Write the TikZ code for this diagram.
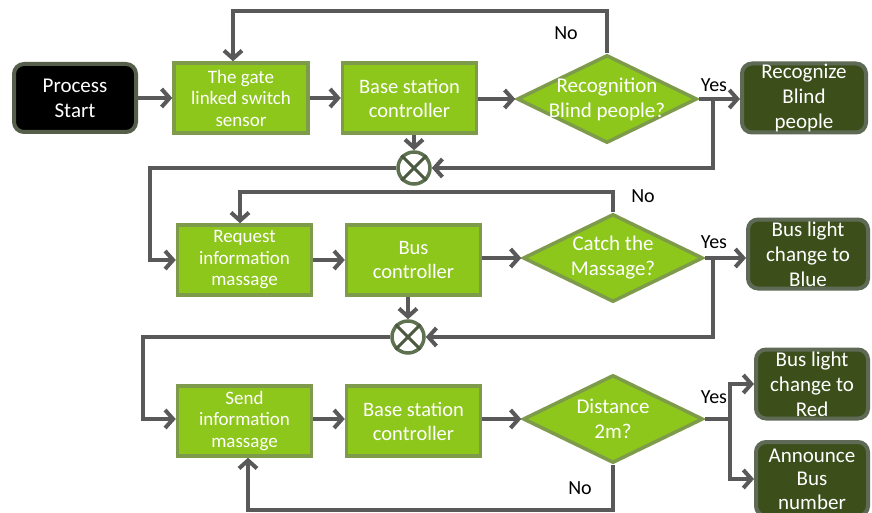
\documentclass[tikz,border=0pt]{standalone}
\usepackage{fontspec}
\setmainfont{Carlito}
\usetikzlibrary{shapes.geometric,arrows.meta,calc}

\definecolor{lime}{HTML}{8DC71C}
\definecolor{limeedge}{HTML}{7D9B4A}
\definecolor{darkleaf}{HTML}{3C4F1B}
\definecolor{darkedge}{HTML}{5E6A55}
\definecolor{wire}{HTML}{595959}
\definecolor{ringedge}{HTML}{5E7150}

\tikzset{
  stepbox/.style={rectangle, draw=limeedge, fill=lime, line width=3.5pt,
    inner sep=0pt, align=center, text=white,
    minimum width=134pt, minimum height=70pt},
  smalltext/.style={font=\fontsize{19}{21.5}\selectfont},
  midtext/.style={font=\fontsize{20.5}{24}\selectfont},
  bigtext/.style={font=\fontsize{21}{25}\selectfont},
  decide/.style={diamond, draw=limeedge, fill=lime, line width=3.5pt,
    inner sep=0pt, minimum width=180pt, minimum height=88pt},
  decidetext/.style={align=center, text=white, inner sep=0pt, bigtext},
  outcome/.style={rectangle, rounded corners=10pt, draw=darkedge, fill=darkleaf,
    line width=4pt, inner sep=0pt, align=center, text=white,
    minimum height=69pt, bigtext},
  startbox/.style={rectangle, rounded corners=10pt, draw=darkedge!90!black, fill=black,
    line width=4pt, inner sep=0pt, align=center, text=white,
    minimum width=122pt, minimum height=68pt, bigtext},
  joint/.style={circle, draw=ringedge, fill=white, line width=3.5pt,
    inner sep=0pt, minimum size=32pt},
  flow/.style={draw=wire, line width=4pt,
    -{Straight Barb[length=8pt,width=18pt]}},
  plain/.style={draw=wire, line width=4pt},
  answer/.style={font=\fontsize{20}{24}\selectfont, text=black, inner sep=0pt}
}

\begin{document}
\begin{tikzpicture}[x=1pt,y=-1pt]
\useasboundingbox (0,0) rectangle (872,513);

% ---------- first row ----------
\node[startbox] (start) at (75,98) {Process\\Start};
\node[stepbox, smalltext] (gate) at (241,98) {The gate\\linked switch\\sensor};
\node[stepbox, midtext] (bs1) at (409.5,98) {Base station\\controller};
\node[decide, label={[decidetext]center:Recognition\\Blind people?}] (d1) at (607,99) {};
\node[outcome, minimum width=124pt] (rec) at (804,98) {Recognize\\Blind\\people};
\node[joint] (c1) at (414,168) {};

% ---------- second row ----------
\node[stepbox, smalltext] (req) at (244.5,260) {Request\\information\\massage};
\node[stepbox, midtext] (bus) at (413.5,260) {Bus\\controller};
\node[decide, label={[decidetext]center:Catch the\\Massage?}] (d2) at (613,258) {};
\node[outcome, minimum width=120pt] (blue) at (808,254) {Bus light\\change to\\Blue};
\node[joint] (c2) at (408,337) {};

% ---------- third row ----------
\node[stepbox, smalltext] (send) at (244.5,421) {Send\\information\\massage};
\node[stepbox, midtext] (bs2) at (413.5,421) {Base station\\controller};
\node[decide, label={[decidetext]center:Distance\\2m?}] (d3) at (613,419) {};
\node[outcome, minimum width=112pt] (red) at (812,384) {Bus light\\change to\\Red};
\node[outcome, minimum width=112pt, minimum height=74pt,
      font=\fontsize{21}{23.5}\selectfont] (ann) at (812,479) {Announce\\Bus\\number};

% crosses inside the junction circles
\foreach \c in {c1,c2}{
  \draw[draw=ringedge!80!black, line width=3pt] (\c.45) -- (\c.225);
  \draw[draw=ringedge!80!black, line width=3pt] (\c.135) -- (\c.315);
}

% ---------- helper points for the loops ----------
\coordinate (top1) at (233,11);
\coordinate (left1) at (150,0);
\coordinate (y1) at (713,99);
\coordinate (top2) at (240,192);
\coordinate (left2) at (143,0);
\coordinate (y2) at (713,258);
\coordinate (split3) at (730,419);
\coordinate (low3) at (248,510);

% ---------- connectors, first row ----------
\draw[flow] (start.east) -- (gate.west);
\draw[flow] (gate.east) -- (bs1.west);
\draw[flow] (bs1.east |- d1) -- (d1.west);
\draw[flow] (d1.east) -- (rec.west |- d1);
\draw[flow] (d1.north) |- (top1) -- (top1 |- gate.north);
\draw[flow] (y1) |- (c1.east);
\draw[flow] (bs1.south -| c1) -- (c1.north);
\draw[flow] (c1.west) -| (left1 |- c1) |- (req.west);

% ---------- connectors, second row ----------
\draw[flow] (req.east) -- (bus.west);
\draw[flow] (bus.east |- d2) -- (d2.west);
\draw[flow] (d2.east) -- (blue.west |- d2);
\draw[flow] (d2.north) |- (top2) -- (top2 |- req.north);
\draw[flow] (y2) |- (c2.east);
\draw[flow] (bus.south -| c2) -- (c2.north);
\draw[flow] (c2.west) -| (left2 |- c2) |- (send.west |- d3);

% ---------- connectors, third row ----------
\draw[flow] (send.east |- d3) -- (bs2.west |- d3);
\draw[flow] (bs2.east |- d3) -- (d3.west);
\draw[plain] (d3.east) -- (split3);
\draw[flow] (split3) |- (red.west);
\draw[flow] (split3) |- (ann.west);
\draw[flow] (d3.south) |- (low3) -- (low3 |- send.south);

% ---------- answer labels ----------
\node[answer] (no1) at (566,33) {No};
\node[answer] (yes1) at (714,85) {Yes};
\node[answer] (no2) at (643,196) {No};
\node[answer] (yes2) at (714,242) {Yes};
\node[answer] (yes3) at (714,397) {Yes};
\node[answer] (no3) at (580,488) {No};
\end{tikzpicture}
\end{document}
